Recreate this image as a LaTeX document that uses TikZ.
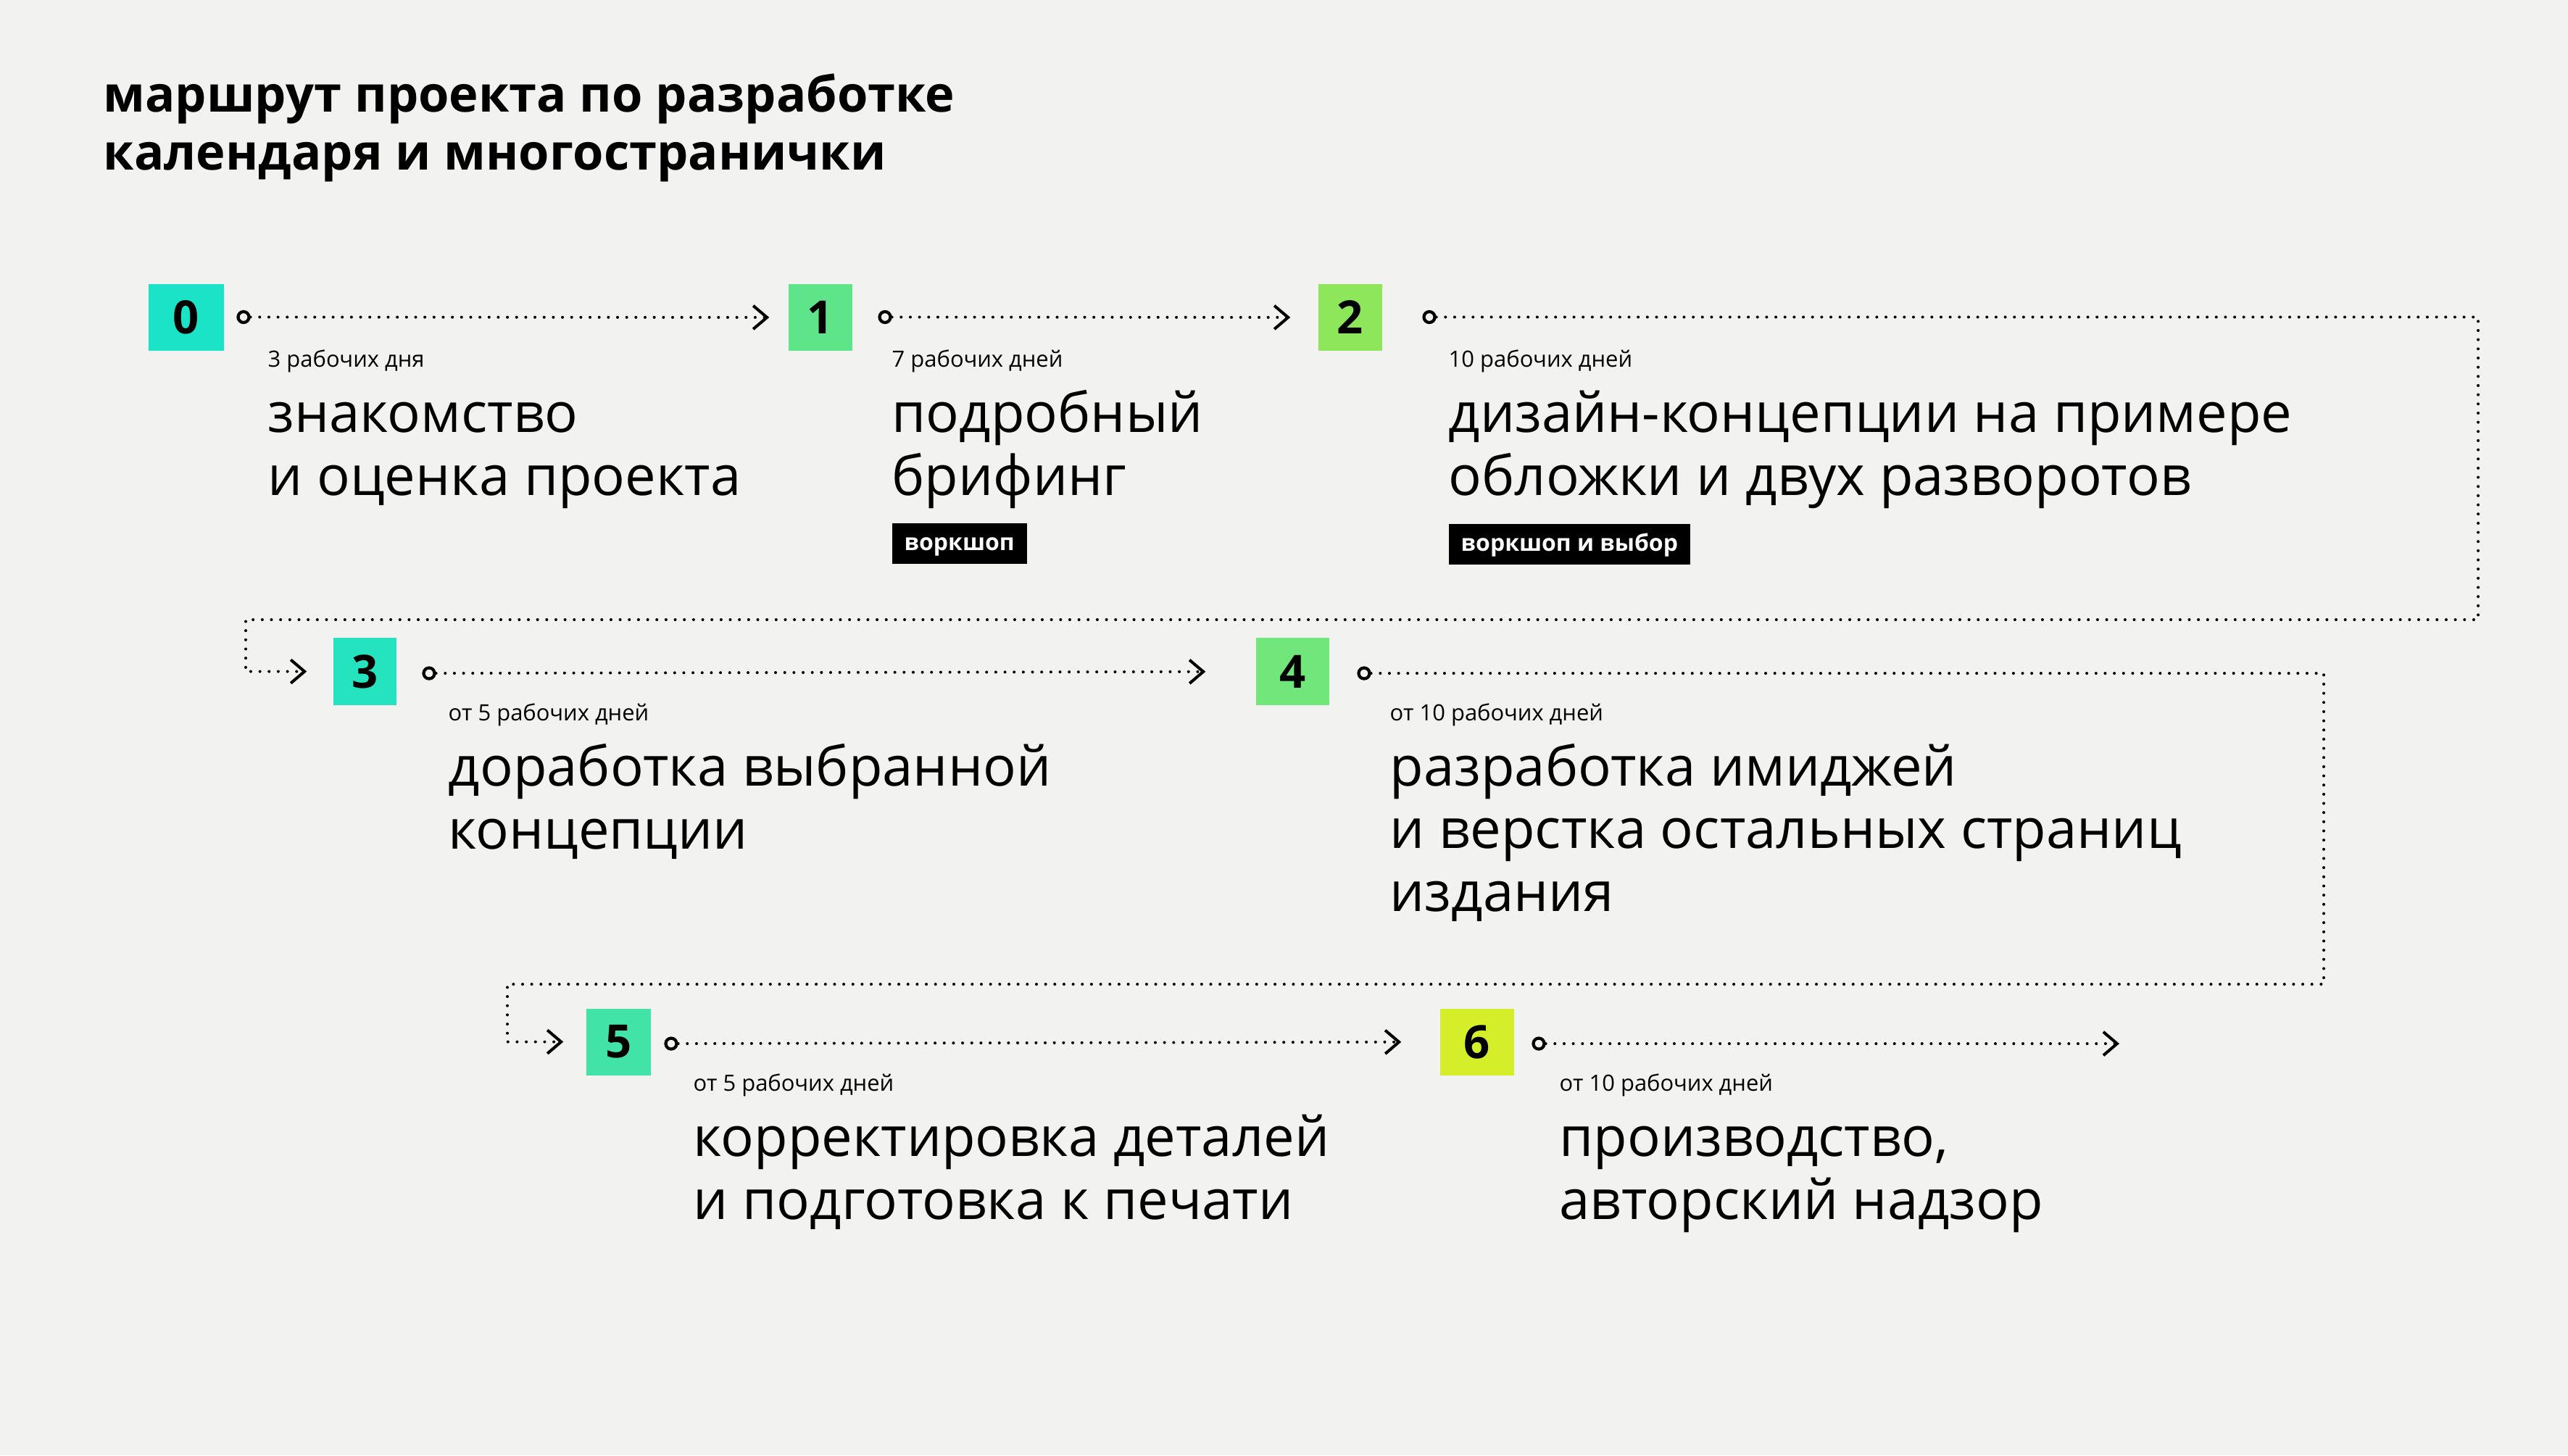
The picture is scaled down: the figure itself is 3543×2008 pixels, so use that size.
\documentclass[tikz,border=0pt]{standalone}
\usepackage{fontspec}
\setmainfont{Open Sans}
\usetikzlibrary{arrows.meta}
\definecolor{bgpage}{HTML}{F2F2F1}
\definecolor{stepA}{HTML}{1AE3C8}
\definecolor{stepB}{HTML}{5EE58A}
\definecolor{stepC}{HTML}{8EE65A}
\definecolor{stepD}{HTML}{26E3BF}
\definecolor{stepE}{HTML}{71E77B}
\definecolor{stepF}{HTML}{42E3A6}
\definecolor{stepG}{HTML}{D4EE2A}
\tikzset{
  stepbox/.style={fill=#1, minimum height=0.92cm, inner sep=0pt, font=\fontsize{18}{18}\selectfont\bfseries},
  ring/.style={draw, circle, line width=1.2pt, minimum size=0.15cm, inner sep=0pt},
  flow/.style={line width=1.15pt, line cap=round, dash pattern=on 0pt off 3.6pt,
    -{Straight Barb[length=5.4pt, width=9.2pt, line width=1.15pt]}},
  days/.style={anchor=base west, inner sep=0pt, font=\fontsize{8.8}{10}\selectfont},
  stage/.style={anchor=base west, inner sep=0pt, align=left, font=\fontsize{21.6}{24.5}\selectfont},
  heading/.style={anchor=base west, inner sep=0pt, align=left, font=\fontsize{19.5}{22.5}\selectfont\bfseries},
  badge/.style={fill=black, text=white, anchor=north west, minimum height=0.56cm, inner xsep=0.17cm, inner ysep=0pt,
    text height=1ex, text depth=0pt, font=\fontsize{9.1}{11}\selectfont\bfseries}
}
\begin{document}
\begin{tikzpicture}[x=0.01cm, y=-0.01cm]
  \fill[bgpage] (0,0) rectangle (3543,2008);
  \node[heading] (title) at (142,234) {маршрут проекта по разработке\\календаря и многостранички};

  \node[stepbox=stepA, minimum width=1.04cm] (b0) at (257,438) {0};
  \node[stepbox=stepB, minimum width=0.88cm] (b1) at (1132,438) {1};
  \node[stepbox=stepC, minimum width=0.88cm] (b2) at (1863,438) {2};
  \node[stepbox=stepD, minimum width=0.87cm] (b3) at (503.5,926.5) {3};
  \node[stepbox=stepE, minimum width=1.01cm] (b4) at (1783.5,926.5) {4};
  \node[stepbox=stepF, minimum width=0.89cm] (b5) at (853.5,1437.5) {5};
  \node[stepbox=stepG, minimum width=1.02cm] (b6) at (2038,1437.5) {6};

  \node[ring] (c0) at (336,437.5) {};
  \node[ring] (c1) at (1221,437.5) {};
  \node[ring] (c2) at (1972,437.5) {};
  \node[ring] (c3) at (592,929) {};
  \node[ring] (c4) at (1882,929) {};
  \node[ring] (c5) at (926,1440) {};
  \node[ring] (c6) at (2123,1440) {};

  \coordinate (turn2) at (3419,855);
  \coordinate (back2) at (339,855);
  \coordinate (turn4) at (3206,1358);
  \coordinate (back4) at (700,1358);
  \coordinate (end6) at (2924,1440);

  \draw[flow, shorten >=0.26cm] (c0) -- (b1);
  \draw[flow, shorten >=0.38cm] (c1) -- (b2);
  \draw[flow, shorten >=0.36cm] (c2) -| (turn2) -- (back2) |- (b3);
  \draw[flow, shorten >=0.69cm] (c3) -- (b4);
  \draw[flow, shorten >=0.31cm] (c4) -| (turn4) -- (back4) |- (b5);
  \draw[flow, shorten >=0.53cm] (c5) -- (b6);
  \draw[flow] (c6) -- (end6);

  \node[days] (d0) at (369,506) {3 рабочих дня};
  \node[days] (d1) at (1230,506) {7 рабочих дней};
  \node[days] (d2) at (1998,506) {10 рабочих дней};
  \node[days] (d3) at (618,994) {от 5 рабочих дней};
  \node[days] (d4) at (1917,994) {от 10 рабочих дней};
  \node[days] (d5) at (956,1505) {от 5 рабочих дней};
  \node[days] (d6) at (2151,1505) {от 10 рабочих дней};

  \node[stage] (s0) at (369,683) {знакомство\\и оценка проекта};
  \node[stage] (s1) at (1230,683) {подробный\\брифинг};
  \node[stage] (s2) at (1998,683) {дизайн-концепции на примере\\обложки и двух разворотов};
  \node[stage] (s3) at (618,1171) {доработка выбранной\\концепции};
  \node[stage] (s4) at (1917,1257) {разработка имиджей\\и верстка остальных страниц\\издания};
  \node[stage] (s5) at (956,1682) {корректировка деталей\\и подготовка к печати};
  \node[stage] (s6) at (2151,1682) {производство,\\авторский надзор};

  \node[badge] (w1) at (1230,721) {воркшоп};
  \node[badge] (w2) at (1998,722) {воркшоп и выбор};
\end{tikzpicture}
\end{document}
